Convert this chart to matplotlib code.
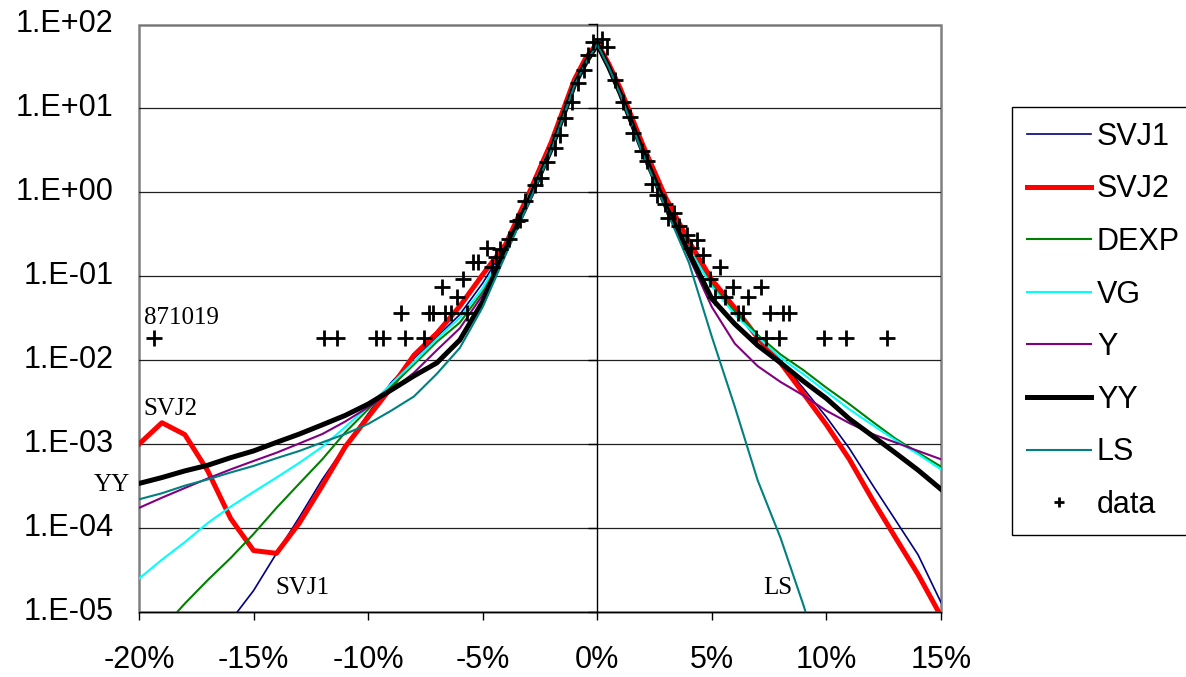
import numpy as np
import matplotlib
matplotlib.use('Agg')
import matplotlib.pyplot as plt
from matplotlib.patches import Rectangle
from matplotlib.ticker import FixedLocator, NullLocator, FuncFormatter
import matplotlib.transforms as mtransforms

# return grid in percent
x_pct = [-20, -19, -18, -17, -16, -15, -14, -13, -12, -11, -10, -9, -8, -7, -6, -5, -4, -3, -2, -1,
         -0.5, 0, 0.5, 1, 2, 3, 4, 5, 6, 7, 8, 9, 10, 11, 12, 13, 14, 15]

svj1 = [3.2e-7, 6.3e-7, 1.6e-6, 3.5e-6, 7.9e-6, 1.8e-5, 5.0e-5, 1.35e-4, 3.8e-4, 9.5e-4, 2.3e-3, 5.4e-3,
        1.05e-2, 1.9e-2, 3.5e-2, 8.3e-2, 0.23, 0.93, 3.8, 21, 38, 60, 33, 16.6, 3.4, 0.79, 0.24, 8.9e-2,
        4.0e-2, 1.9e-2, 9.8e-3, 4.6e-3, 2.1e-3, 8.9e-4, 3.3e-4, 1.26e-4, 4.8e-5, 1.3e-5]
svj2 = [1.0e-3, 1.8e-3, 1.3e-3, 4.8e-4, 1.3e-4, 5.4e-5, 5.0e-5, 1.15e-4, 3.2e-4, 9.3e-4, 2.1e-3, 4.7e-3,
        1.15e-2, 2.1e-2, 4.4e-2, 0.105, 0.24, 0.95, 4.0, 22, 40, 60, 34, 17.4, 3.6, 0.85, 0.26, 9.1e-2,
        4.2e-2, 1.86e-2, 9.3e-3, 4.0e-3, 1.7e-3, 6.6e-4, 2.2e-4, 7.8e-5, 2.8e-5, 8.9e-6]
dexp = [3.2e-6, 6.3e-6, 1.26e-5, 2.4e-5, 4.4e-5, 8.5e-5, 1.74e-4, 3.4e-4, 6.6e-4, 1.38e-3, 2.6e-3, 4.8e-3,
        8.9e-3, 1.66e-2, 2.8e-2, 6.6e-2, 0.21, 0.87, 3.6, 21, 37, 59, 32, 15.8, 3.2, 0.74, 0.21, 7.9e-2,
        3.8e-2, 2.0e-2, 1.17e-2, 7.6e-3, 4.7e-3, 3.0e-3, 1.86e-3, 1.17e-3, 7.9e-4, 5.4e-4]
vg = [2.5e-5, 4.2e-5, 6.8e-5, 1.15e-4, 1.8e-4, 2.7e-4, 4.0e-4, 6.0e-4, 9.3e-4, 1.6e-3, 2.8e-3, 5.2e-3,
      9.5e-3, 1.8e-2, 3.2e-2, 7.2e-2, 0.22, 0.89, 3.7, 21, 37, 59, 32, 15.8, 3.2, 0.74, 0.21, 7.6e-2,
      3.5e-2, 1.9e-2, 1.07e-2, 6.8e-3, 4.2e-3, 2.6e-3, 1.7e-3, 1.12e-3, 7.6e-4, 5.0e-4]
y_model = [1.74e-4, 2.3e-4, 3.0e-4, 3.9e-4, 5.0e-4, 6.3e-4, 7.9e-4, 1.02e-3, 1.32e-3, 1.86e-3, 2.75e-3, 4.3e-3,
           7.1e-3, 1.32e-2, 2.4e-2, 6.0e-2, 0.20, 0.85, 3.5, 20, 36, 59, 32, 15.5, 3.1, 0.71, 0.17, 4.3e-2,
           1.58e-2, 8.5e-3, 5.5e-3, 3.8e-3, 2.5e-3, 1.78e-3, 1.32e-3, 1.05e-3, 8.3e-4, 6.6e-4]
yy = [3.4e-4, 4.0e-4, 4.8e-4, 5.6e-4, 6.9e-4, 8.3e-4, 1.05e-3, 1.32e-3, 1.7e-3, 2.2e-3, 3.0e-3, 4.4e-3,
      6.5e-3, 9.3e-3, 1.74e-2, 5.0e-2, 0.21, 0.79, 3.3, 19, 35, 58, 31, 15.1, 3.0, 0.68, 0.19, 5.4e-2,
      2.7e-2, 1.5e-2, 9.3e-3, 5.6e-3, 3.5e-3, 2.0e-3, 1.26e-3, 7.9e-4, 4.9e-4, 2.9e-4]
ls = [2.2e-4, 2.6e-4, 3.2e-4, 3.8e-4, 4.6e-4, 5.5e-4, 6.8e-4, 8.3e-4, 1.05e-3, 1.32e-3, 1.74e-3, 2.5e-3,
      3.7e-3, 6.9e-3, 1.4e-2, 4.3e-2, 0.18, 0.74, 3.2, 18.6, 35, 58, 31, 14.8, 2.8, 0.63, 0.145, 1.9e-2,
      2.8e-3, 3.7e-4, 7.6e-5, 1.2e-5, 1.6e-6, np.nan, np.nan, np.nan, np.nan, np.nan]

# empirical density points (+)
data_x = [-19.33, -11.93, -11.38, -9.65, -9.33, -8.37, -7.58,
          -8.57, -7.34, -7.15, -6.64, -6.39, -5.67,
          -6.79, -6.13, -5.84, -5.41, -5.19, -4.82, -4.58, -4.40, -4.24,
          -3.84, -3.51, -3.37, -3.15, -2.72, -2.45, -2.18, -1.84, -1.63, -1.41,
          -1.12, -0.83, -0.58, -0.39, -0.17, 0.19, 0.41,
          0.77, 1.13, 1.43, 1.57, 1.93, 2.15, 2.37, 2.62, 2.95, 3.10, 3.35,
          3.57, 3.90, 4.11, 4.33, 4.60, 4.91, 5.35, 5.13, 5.57, 5.93,
          6.15, 6.37, 6.58, 7.14, 7.53, 8.11, 8.36,
          6.92, 7.35, 7.91, 9.90, 10.87, 12.66]
data_y = [0.0185, 0.0185, 0.0185, 0.0185, 0.0185, 0.0185, 0.0185,
          0.037, 0.037, 0.037, 0.037, 0.037, 0.037,
          0.074, 0.056, 0.093, 0.15, 0.15, 0.22, 0.13, 0.17, 0.21,
          0.28, 0.45, 0.47, 0.78, 1.23, 1.48, 2.3, 3.36, 4.8, 7.6,
          12, 20, 28.7, 43, 62, 68, 54,
          22, 12, 7.9, 5.1, 3.15, 2.35, 1.26, 0.92, 0.73, 0.50, 0.57,
          0.40, 0.31, 0.22, 0.27, 0.18, 0.093, 0.13, 0.056, 0.056, 0.074,
          0.037, 0.037, 0.056, 0.074, 0.037, 0.037, 0.037,
          0.0185, 0.0185, 0.0185, 0.0185, 0.0185, 0.0185]

series = [
    ('SVJ1', svj1, '#000080', 1.2),
    ('SVJ2', svj2, '#FF0000', 3.6),
    ('DEXP', dexp, '#008000', 1.5),
    ('VG', vg, '#00FFFF', 1.5),
    ('Y', y_model, '#800080', 1.5),
    ('YY', yy, '#000000', 3.6),
    ('LS', ls, '#008080', 1.5),
]

x_ticks = [-20, -15, -10, -5, 0, 5, 10, 15]
y_ticks = [1e-5, 1e-4, 1e-3, 1e-2, 1e-1, 1e0, 1e1, 1e2]

W, H = 1186, 677
fig = plt.figure(figsize=(W / 100, H / 100), dpi=100)
ax = fig.add_axes([139 / W, 1 - 612 / H, (941 - 139) / W, (612 - 24.5) / H])

for name, vals, col, lw in series:
    ax.plot(x_pct, vals, color=col, lw=lw, label=name, solid_joinstyle='round')
ax.plot(data_x, data_y, linestyle='none', marker='+', color='black',
        markersize=11, markeredgewidth=2.0, label='data')

ax.set_yscale('log')
ax.set_xlim(-20, 15)
ax.set_ylim(1e-5, 1e2)

# horizontal grid at each decade
ax.yaxis.set_major_locator(FixedLocator(y_ticks))
ax.yaxis.set_minor_locator(NullLocator())
ax.grid(True, axis='y', color='#202020', lw=0.9)
ax.set_axisbelow(True)

# value axis crosses at 0 %
ax.spines['left'].set_position(('data', 0))
ax.spines['left'].set_color('black')
ax.spines['left'].set_linewidth(1.0)
ax.tick_params(axis='y', which='major', direction='out', length=6.5, width=1,
               labelleft=False)
for side in ('top', 'right'):
    ax.spines[side].set_visible(False)
ax.spines['bottom'].set_color('black')
ax.add_patch(Rectangle((0, 0), 1, 1, transform=ax.transAxes, fill=False,
                       edgecolor='#808080', lw=1.8, clip_on=False, zorder=0.5))

ax.xaxis.set_major_locator(FixedLocator(x_ticks))
ax.xaxis.set_major_formatter(FuncFormatter(lambda v, p: f'{v:.0f}%'))
ax.tick_params(axis='x', direction='out', length=6, width=1, pad=18,
               labelsize=22)
for lab in ax.get_xticklabels():
    lab.set_fontfamily('Liberation Sans')

# y labels sit at the left edge of the plot area
trans = mtransforms.blended_transform_factory(ax.transAxes, ax.transData)
for v in y_ticks:
    exp = int(round(np.log10(v)))
    sign = '+' if exp >= 0 else '-'
    ax.text(-0.032, v, f'1.E{sign}{abs(exp):02d}', transform=trans, ha='right',
            va='center', fontsize=22, family='Liberation Sans')

# curve annotations
serif = dict(fontsize=18, family='Liberation Serif', va='center')
ax.text(-19.78, 0.032, '871019', ha='left', **serif)
ax.text(-19.83, 2.6e-3, 'SVJ2', ha='left', **serif)
ax.text(-20.39, 3.3e-4, 'YY', ha='right', **serif)
ax.text(-14.06, 1.93e-5, 'SVJ1', ha='left', **serif)
ax.text(7.22, 1.93e-5, 'LS', ha='left', **serif)

leg = ax.legend(loc='upper left', bbox_to_anchor=(1012 / W, 1 - 107 / H),
                bbox_transform=fig.transFigure, borderaxespad=0,
                prop={'family': 'Liberation Sans', 'size': 22},
                frameon=True, fancybox=False, framealpha=1, edgecolor='black',
                handlelength=2.1, handletextpad=0.2, labelspacing=0.74,
                borderpad=0.48, numpoints=1, markerscale=0.6)
leg.get_frame().set_linewidth(1.0)

fig.savefig('out.png', dpi=100)
